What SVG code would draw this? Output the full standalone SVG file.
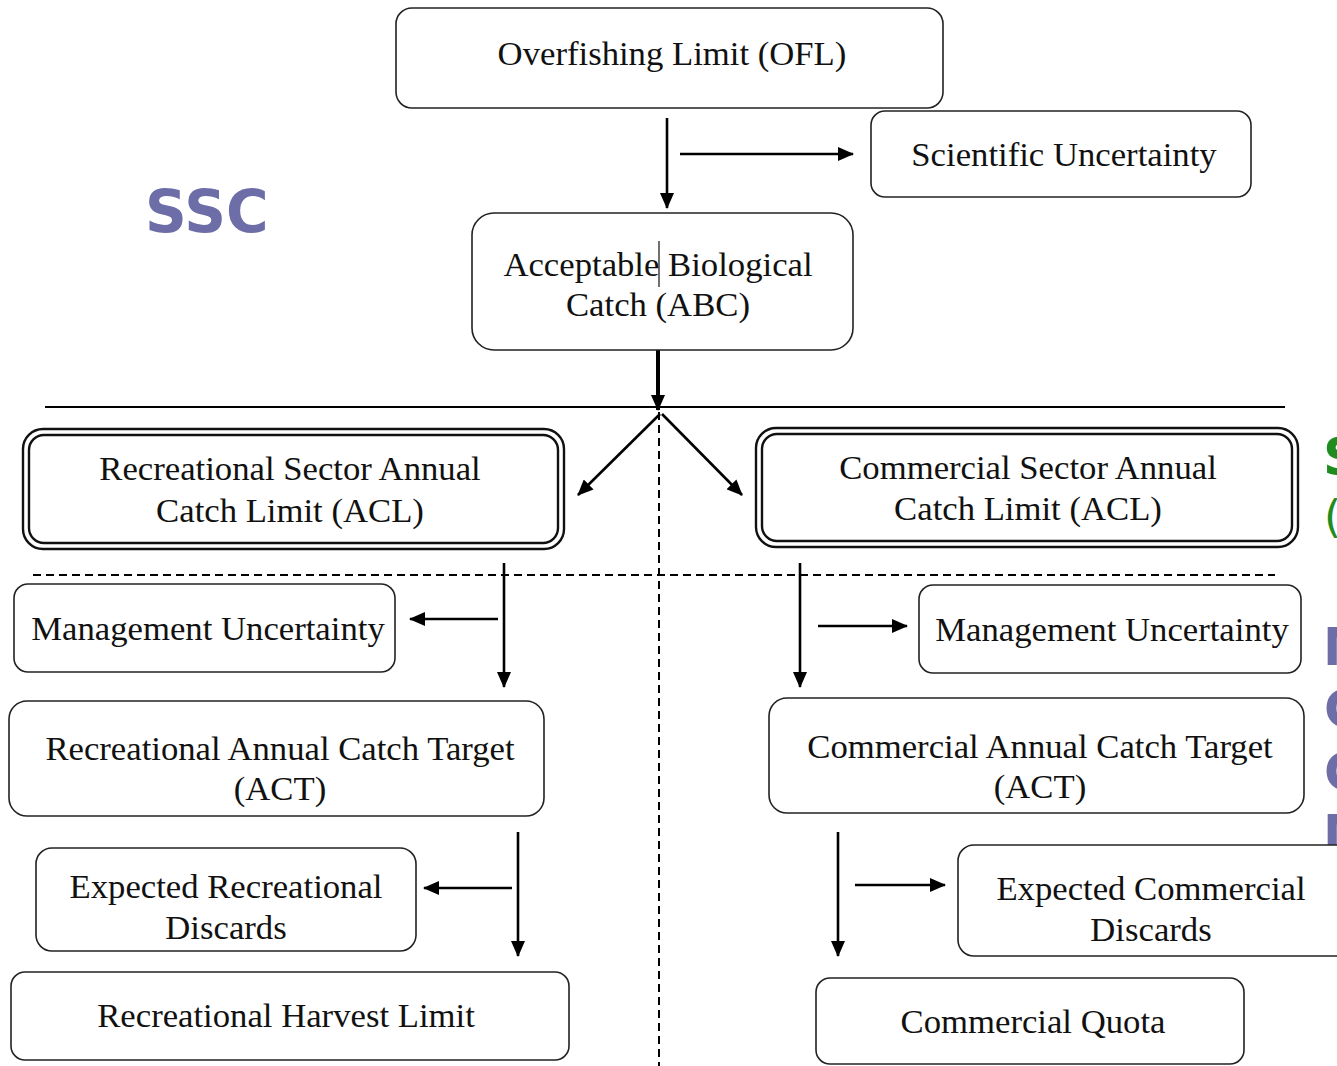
<svg xmlns="http://www.w3.org/2000/svg" width="1337" height="1066" viewBox="0 0 1337 1066">
<style>
.box{fill:#fff;stroke:#222;stroke-width:1.6}
.dbl{fill:none;stroke:#111;stroke-width:2.4}
.t{font-family:"Liberation Serif","Times New Roman",serif;font-size:34.7px;fill:#111;text-anchor:middle}
.ar{stroke:#000;stroke-width:2.6;fill:none;marker-end:url(#ah)}
.dash{stroke:#000;stroke-width:2;stroke-dasharray:8 5;fill:none}
.side{font-family:"DejaVu Sans",Verdana,sans-serif;font-weight:bold}
</style>
<defs>
<marker id="ah" markerUnits="userSpaceOnUse" markerWidth="16" markerHeight="14" refX="15" refY="7" orient="auto">
<path d="M0,0 L16,7 L0,14 Z" fill="#000"/>
</marker>
</defs>
<rect width="1337" height="1066" fill="#fff"/>

<text class="side" x="145" y="232" font-size="58" fill="#6D6DA8">SSC</text>
<text class="side" x="1323" y="475" font-size="52" fill="#1E8C1E">S</text>
<text x="1324" y="532" font-family="DejaVu Sans,sans-serif" font-size="44" fill="#1E8C1E">(</text>
<text class="side" x="1323" y="665" font-size="51" fill="#6D6DA8">M</text>
<text class="side" x="1324" y="727" font-size="51" fill="#6D6DA8">C</text>
<text class="side" x="1324" y="790" font-size="51" fill="#6D6DA8">C</text>
<text class="side" x="1323" y="852" font-size="51" fill="#6D6DA8">M</text>

<g id="connectors">
<line class="ar" x1="667" y1="118" x2="667" y2="208"/>
<line class="ar" x1="680" y1="154" x2="853" y2="154"/>
<line x1="658" y1="350" x2="658" y2="410" stroke="#000" stroke-width="4" marker-end="url(#ah)"/>
<line x1="45" y1="407" x2="1285" y2="407" stroke="#000" stroke-width="2"/>
<line class="dash" x1="659" y1="412" x2="659" y2="1066"/>
<line class="ar" x1="660" y1="414" x2="578" y2="495"/>
<line class="ar" x1="662" y1="414" x2="742" y2="495"/>
<line class="dash" x1="33" y1="575" x2="1275" y2="575"/>
<line class="ar" x1="504" y1="563" x2="504" y2="687"/>
<line class="ar" x1="498" y1="619" x2="410" y2="619"/>
<line class="ar" x1="800" y1="563" x2="800" y2="687"/>
<line class="ar" x1="818" y1="626" x2="907" y2="626"/>
<line class="ar" x1="518" y1="832" x2="518" y2="956"/>
<line class="ar" x1="512" y1="888" x2="424" y2="888"/>
<line class="ar" x1="838" y1="832" x2="838" y2="956"/>
<line class="ar" x1="855" y1="885" x2="945" y2="885"/>
</g>

<g id="ofl">
<rect class="box" x="396" y="8" width="547" height="100" rx="16"/>
<text class="t" x="672" y="65">Overfishing Limit (OFL)</text>
</g>
<g id="sci">
<rect class="box" x="871" y="111" width="380" height="86" rx="14"/>
<text class="t" x="1064" y="166">Scientific Uncertainty</text>
</g>
<g id="abc">
<rect class="box" x="472" y="213" width="381" height="137" rx="22"/>
<text class="t" x="658" y="276">Acceptable Biological</text>
<text class="t" x="658" y="316">Catch (ABC)</text>
<line x1="659" y1="241" x2="659" y2="287" stroke="#111" stroke-width="1.2"/>
</g>
<g id="rec-acl">
<rect class="dbl" x="23" y="429" width="541" height="120" rx="20"/>
<rect class="dbl" x="29" y="435" width="529" height="108" rx="15"/>
<text class="t" x="290" y="480">Recreational Sector Annual</text>
<text class="t" x="290" y="522">Catch Limit (ACL)</text>
</g>
<g id="com-acl">
<rect class="dbl" x="756" y="428" width="542" height="119" rx="20"/>
<rect class="dbl" x="762" y="434" width="530" height="107" rx="15"/>
<text class="t" x="1028" y="479">Commercial Sector Annual</text>
<text class="t" x="1028" y="520">Catch Limit (ACL)</text>
</g>
<g id="rec-mu">
<rect class="box" x="14" y="584" width="381" height="88" rx="14"/>
<text class="t" x="208" y="640">Management Uncertainty</text>
</g>
<g id="com-mu">
<rect class="box" x="919" y="585" width="382" height="88" rx="14"/>
<text class="t" x="1112" y="641">Management Uncertainty</text>
</g>
<g id="rec-act">
<rect class="box" x="9" y="701" width="535" height="115" rx="18"/>
<text class="t" x="280" y="760">Recreational Annual Catch Target</text>
<text class="t" x="280" y="800">(ACT)</text>
</g>
<g id="com-act">
<rect class="box" x="769" y="698" width="535" height="115" rx="18"/>
<text class="t" x="1040" y="758">Commercial Annual Catch Target</text>
<text class="t" x="1040" y="798">(ACT)</text>
</g>
<g id="rec-disc">
<rect class="box" x="36" y="848" width="380" height="103" rx="16"/>
<text class="t" x="226" y="898">Expected Recreational</text>
<text class="t" x="226" y="939">Discards</text>
</g>
<g id="com-disc">
<rect class="box" x="958" y="845" width="400" height="111" rx="16"/>
<text class="t" x="1151" y="900">Expected Commercial</text>
<text class="t" x="1151" y="941">Discards</text>
</g>
<g id="rec-hl">
<rect class="box" x="11" y="972" width="558" height="88" rx="14"/>
<text class="t" x="286" y="1027">Recreational Harvest Limit</text>
</g>
<g id="quota">
<rect class="box" x="816" y="978" width="428" height="86" rx="14"/>
<text class="t" x="1033" y="1033">Commercial Quota</text>
</g>
</svg>
